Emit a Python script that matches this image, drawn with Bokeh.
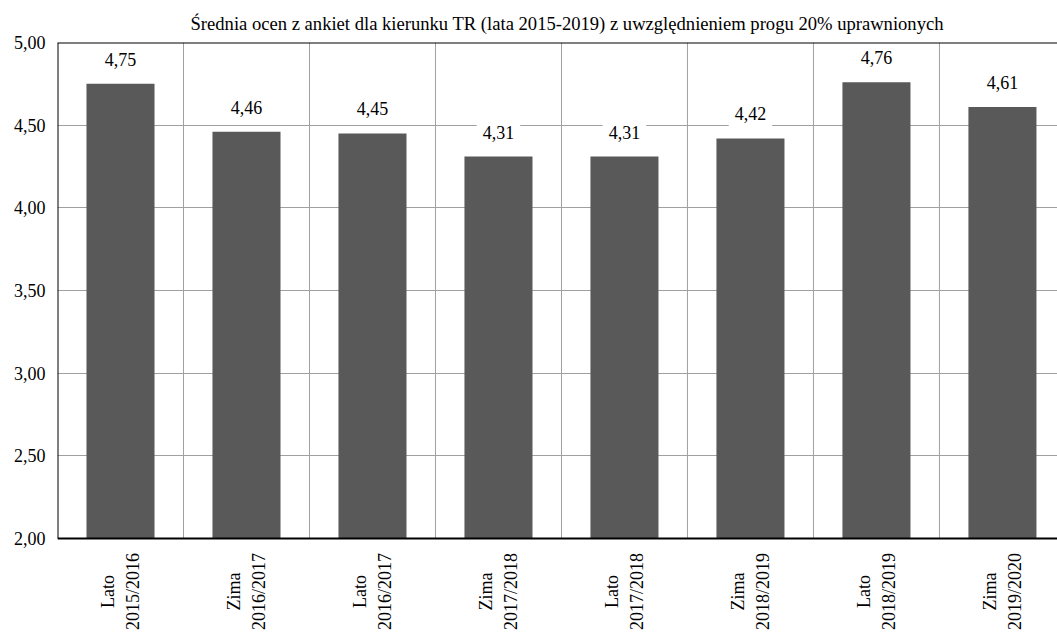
from bokeh.plotting import figure
from bokeh.models import ColumnDataSource, Range1d, FixedTicker
from bokeh.core.properties import value
from bokeh.embed import file_html
from bokeh.resources import INLINE

# ---- data ----
seasons = ["Lato", "Zima", "Lato", "Zima", "Lato", "Zima", "Lato", "Zima"]
years = ["2015/2016", "2016/2017", "2016/2017", "2017/2018",
         "2017/2018", "2018/2019", "2018/2019", "2019/2020"]
values = [4.75, 4.46, 4.45, 4.31, 4.31, 4.42, 4.76, 4.61]
y_ticks = [2.0, 2.5, 3.0, 3.5, 4.0, 4.5, 5.0]
y_tick_labels = ["2,00", "2,50", "3,00", "3,50", "4,00", "4,50", "5,00"]
title_text = "Średnia ocen z ankiet dla kierunku TR (lata 2015-2019) z uwzględnieniem progu 20% uprawnionych"

FONT = "Liberation Serif"
Y_MIN, Y_MAX = y_ticks[0], y_ticks[-1]

categories = [f"{s}\n{y}" for s, y in zip(seasons, years)]
n = len(categories)
centers = [i + 0.5 for i in range(n)]
labels = [f"{v:.2f}".replace(".", ",") for v in values]

src = ColumnDataSource(dict(x=centers, top=values, label=labels,
                            cat=categories, base=[Y_MIN] * n))

# frame spans down to the bottom of the page so the category labels can sit
# under the baseline (y = 2) as part of the plot
p = figure(width=1057, height=632, output_backend="svg", toolbar_location=None,
           x_range=Range1d(0, 7.937), y_range=Range1d(1.4315, Y_MAX),
           x_axis_location=None,
           min_border_left=57, min_border_right=0, min_border_top=42,
           min_border_bottom=0)

p.title.text = title_text
p.title.text_font = FONT
p.title.text_font_size = "18.6px"
p.title.text_font_style = "normal"
p.title.align = "left"
p.title.offset = 133
p.title.standoff = 17
p.title.text_color = "black"

# vertical separators between categories
bounds = [i for i in range(1, n + 1)]
p.segment(x0=bounds, y0=[Y_MIN] * n, x1=bounds, y1=[Y_MAX] * n,
          line_color="#a0a0a0", line_width=1)

p.vbar(x="x", top="top", bottom=Y_MIN, width=0.54, source=src,
       fill_color="#595959", line_color=None)

# frame lines: left, bottom, top
p.segment(x0=[0, 0, 0], y0=[Y_MIN, Y_MIN, Y_MAX], x1=[0, n, n], y1=[Y_MAX, Y_MIN, Y_MAX],
          line_color="black", line_width=2)

p.text(x="x", y="top", text="label", source=src, text_align="center",
       text_baseline="bottom", y_offset=-12, text_font=value(FONT),
       text_font_size="18px", text_color="black",
       background_fill_color="white", padding=6)

# category labels (two centred lines, rotated)
p.text(x="x", y="base", text="cat", source=src, angle=1.5707963267948966,
       text_align="center", text_baseline="middle", y_offset=53,
       text_font=value(FONT), text_font_size="18px", text_color="black",
       text_line_height=1.25)

# y axis
p.yaxis.ticker = FixedTicker(ticks=y_ticks)
p.yaxis.major_label_overrides = {t: l for t, l in zip(y_ticks, y_tick_labels)}
p.yaxis.major_tick_line_color = None
p.yaxis.minor_tick_line_color = None
p.yaxis.major_tick_out = 0
p.yaxis.major_tick_in = 0
p.yaxis.axis_line_color = None
p.yaxis.major_label_text_font = FONT
p.yaxis.major_label_text_color = "black"
p.yaxis.major_label_text_font_size = "18px"
p.yaxis.major_label_standoff = 12

# grids
p.ygrid.ticker = FixedTicker(ticks=y_ticks[1:-1])
p.ygrid.grid_line_color = "#a0a0a0"
p.xgrid.grid_line_color = None

p.outline_line_color = None
p.background_fill_color = "white"
p.border_fill_color = "white"

open("out.html", "w").write(file_html(p, INLINE))
